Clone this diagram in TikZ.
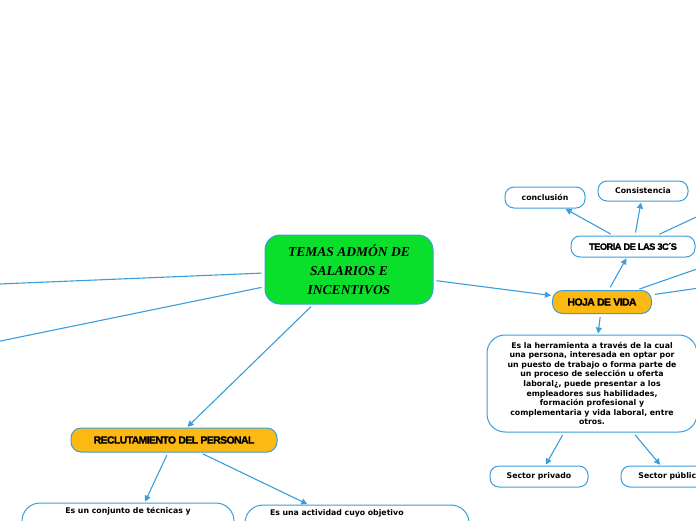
\documentclass[tikz,border=0pt]{standalone}
\usepackage{fontspec}
\setmainfont{DejaVu Sans}
\newfontfamily\titlefont{Liberation Serif}
\newfontfamily\headfont[LetterSpace=-6,FakeBold=1.5]{Liberation Sans}
\usepackage{xcolor}
\usepackage{tikz}
\usetikzlibrary{positioning,arrows.meta}
\definecolor{mapblue}{HTML}{3A9EDC}
\definecolor{mapgreen}{HTML}{0ADF2C}
\definecolor{maporange}{HTML}{FDB913}

\begin{document}
\begin{tikzpicture}[x=1pt,y=-1pt,
    mainbox/.style={draw=mapblue, line width=1pt, fill=mapgreen, rounded corners=15pt,
        minimum width=168pt, minimum height=69pt, align=center,
        font=\titlefont\bfseries\itshape\fontsize{13.5}{19}\selectfont},
    headbox/.style={draw=mapblue, line width=1pt, fill=maporange, rounded corners=10pt,
        minimum height=23pt, font=\headfont\bfseries\fontsize{10.5}{12}\selectfont},
    subbox/.style={draw=mapblue, line width=1pt, fill=white, rounded corners=9pt,
        minimum height=21pt, font=\bfseries\fontsize{7.8}{9.6}\selectfont},
    textbox/.style={draw=mapblue, line width=1pt, fill=white, rounded corners=18pt,
        align=center, font=\bfseries\fontsize{7.8}{9.6}\selectfont},
    link/.style={draw=mapblue, line width=1.1pt, shorten <=3pt, shorten >=1pt},
    arr/.style={link, -{Triangle[length=6pt,width=6pt]}}]
    \useasboundingbox (0,0) rectangle (696,520);

    \node[mainbox] (temas) at (349,269.5) {TEMAS ADMÓN DE\\SALARIOS E\\INCENTIVOS};

    \node[headbox, minimum width=99pt] (hoja) at (602,302) {HOJA DE VIDA};
    \node[subbox, minimum width=124pt, font=\headfont\bfseries\fontsize{9.3}{10}\selectfont] (teoria) at (633,246.5) {TEORIA DE LAS 3C´S};
    \node[subbox, minimum width=80pt] (conclusion) at (545,197.5) {conclusión};
    \node[subbox, minimum width=90pt, minimum height=20pt] (consistencia) at (643,191) {Consistencia};
    \node[textbox, minimum width=210pt, minimum height=97pt] (herramienta) at (592,383.5)
        {Es la herramienta a través de la cual\\una persona, interesada en optar por\\un puesto de trabajo o forma parte de\\un proceso de selección u oferta\\laboral¿, puede presentar a los\\empleadores sus habilidades,\\formación profesional y\\complementaria y vida laboral, entre\\otros.};
    \node[subbox, minimum width=98pt] (privado) at (539,476.5) {Sector privado};
    \node[subbox, minimum width=98pt] (publico) at (670,476.5) {Sector público};

    \node[headbox, minimum width=206pt, minimum height=24pt] (recluta) at (174,440) {RECLUTAMIENTO DEL PERSONAL};
    \node[textbox, minimum width=212pt, text height=6pt, text depth=56pt, inner ysep=4pt] (tecnicas) at (128,538)
        {Es un conjunto de técnicas y};
    \node[textbox, align=left, text width=174pt, inner xsep=25pt, text height=6pt, text depth=32pt, inner ysep=4pt] (actividad) at (357,528)
        {Es una actividad cuyo objetivo};

    % ramas que salen del recorte
    \coordinate (izqA) at (-20,284.8);
    \coordinate (izqB) at (-20,345.2);
    \coordinate (derA) at (720,261);
    \coordinate (derB) at (720,285);
    \coordinate (derC) at (720,206);

    \draw[link] (temas) -- (izqA);
    \draw[link] (temas) -- (izqB);
    \draw[arr] (temas) -- (hoja);
    \draw[arr] (temas) -- (recluta);

    \draw[arr] (hoja) -- (teoria);
    \draw[link] (hoja) -- (derA);
    \draw[link] (hoja) -- (derB);
    \draw[arr] (hoja) -- (herramienta);
    \draw[arr] (teoria) -- (conclusion);
    \draw[arr] (teoria) -- (consistencia);
    \draw[link] (teoria) -- (derC);
    \draw[arr] (herramienta) -- (privado);
    \draw[arr] (herramienta) -- (publico);

    \draw[arr] (recluta) -- (tecnicas);
    \draw[arr] (recluta) -- (actividad);
\end{tikzpicture}
\end{document}
